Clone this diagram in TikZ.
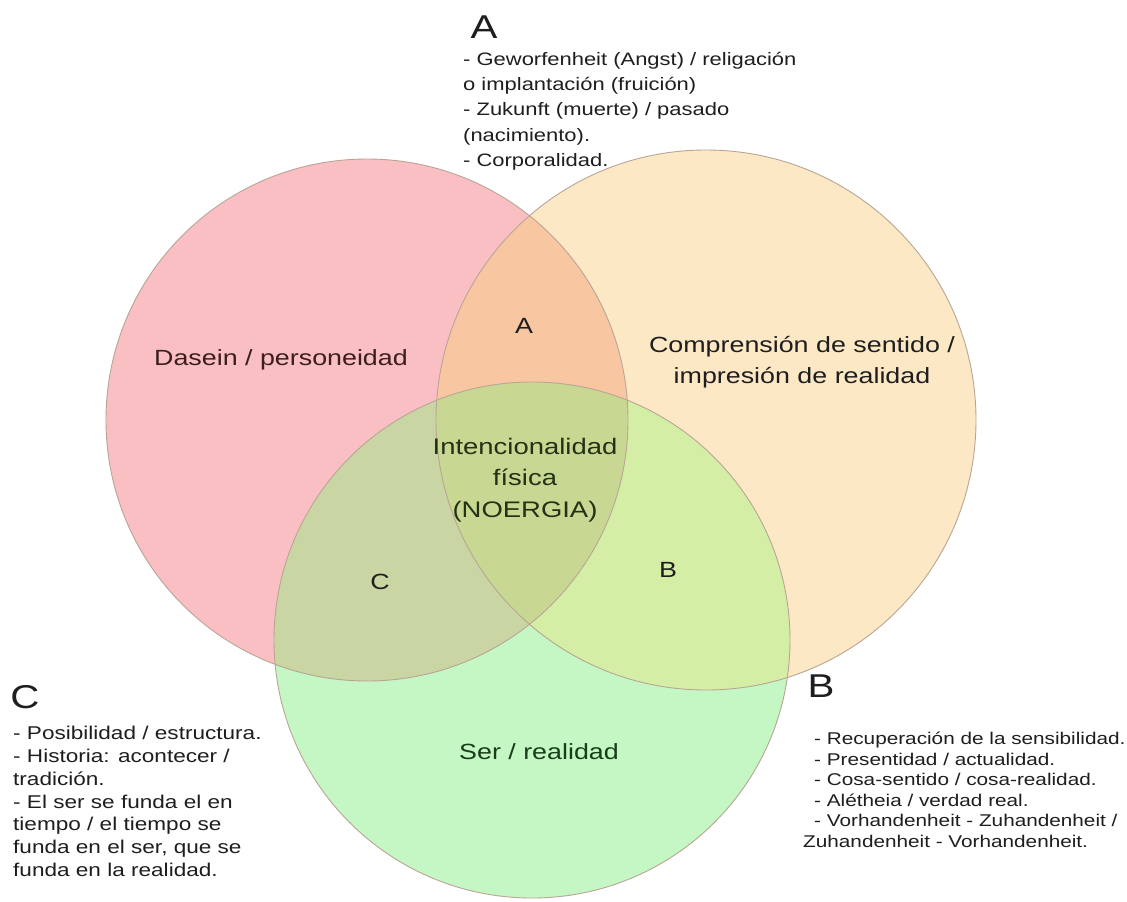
\documentclass[tikz,border=0pt]{standalone}
\usepackage{fontspec}
\setmainfont{Liberation Sans}[FakeStretch=1.22]
\definecolor{redc}{RGB}{250,191,195}
\definecolor{orc}{RGB}{253,232,197}
\definecolor{grc}{RGB}{197,247,197}
\definecolor{Ac}{RGB}{249,198,162}
\definecolor{Cc}{RGB}{201,213,162}
\definecolor{Bc}{RGB}{213,238,165}
\definecolor{Mc}{RGB}{200,216,146}
\definecolor{edgec}{RGB}{185,165,150}
\definecolor{txt}{RGB}{30,30,30}
\begin{document}
\begin{tikzpicture}[x=1pt,y=-1pt,
  ring/.style={draw=edgec, line width=0.9pt},
  label/.style={inner sep=0pt, text=txt, font=\fontsize{22}{27}\selectfont, align=center},
  head/.style={inner sep=0pt, text=txt, font=\fontsize{33}{36}\selectfont},
  block/.style={inner sep=0pt, text=txt, align=left, anchor=north west}]
\useasboundingbox (0,0) rectangle (1127,902);
\fill[white] (0,0) rectangle (1127,902);
% base circles
\fill[redc] (367,420) circle[radius=261];
\fill[orc] (706,420) circle[radius=270];
\begin{scope}
  \clip (367,420) circle[radius=261];
  \fill[Ac] (706,420) circle[radius=270];
\end{scope}
\fill[grc] (532,640) circle[radius=258];
\begin{scope}
  \clip (532,640) circle[radius=258];
  \fill[Cc] (367,420) circle[radius=261];
  \fill[Bc] (706,420) circle[radius=270];
  \clip (367,420) circle[radius=261];
  \fill[Mc] (706,420) circle[radius=270];
\end{scope}
\draw[ring] (367,420) circle[radius=261];
\draw[ring] (706,420) circle[radius=270];
\draw[ring] (532,640) circle[radius=258];
% circle labels
\node[label, text={rgb,255:red,60;green,30;blue,30}] (dasein) at (281,360) {Dasein / personeidad};
\node[label, font=\fontsize{22}{31}\selectfont] (compr) at (802,362) {Comprensi\'on de sentido /\\impresi\'on de realidad};
\node[label, text={rgb,255:red,25;green,60;blue,25}] (ser) at (539,752) {Ser / realidad};
\node[label, font=\fontsize{22.5}{31.5}\selectfont, text={rgb,255:red,35;green,50;blue,20}] (inten) at (525,480) {Intencionalidad\\f\'isica\\(NOERGIA)};
\node[label] (la) at (524,326) {A};
\node[label] (lb) at (668,570) {B};
\node[label] (lc) at (380,582) {C};
% headings
\node[head] (ha) at (484,27) {A};
\node[head] (hc) at (25,697) {C};
\node[head] (hb) at (821,686) {B};
% blocks
\node[block, font=\fontsize{18}{25.2}\selectfont] (ta) at (463,52) {- Geworfenheit (Angst) / religaci\'on\\o implantaci\'on (fruici\'on)\\- Zukunft (muerte) / pasado\\(nacimiento).\\- Corporalidad.};
\node[block, font=\fontsize{18.5}{22.8}\selectfont] (tc) at (13,726) {- Posibilidad / estructura.\\- Historia: acontecer /\\tradici\'on.\\- El ser se funda el en\\tiempo / el tiempo se\\funda en el ser, que se\\funda en la realidad.};
\node[block, font=\fontsize{17}{20.5}\selectfont] (tb) at (803,732) {\hspace*{11pt}- Recuperaci\'on de la sensibilidad.\\\hspace*{11pt}- Presentidad / actualidad.\\\hspace*{11pt}- Cosa-sentido / cosa-realidad.\\\hspace*{11pt}- Al\'etheia / verdad real.\\\hspace*{11pt}- Vorhandenheit - Zuhandenheit /\\Zuhandenheit - Vorhandenheit.};
\end{tikzpicture}
\end{document}
